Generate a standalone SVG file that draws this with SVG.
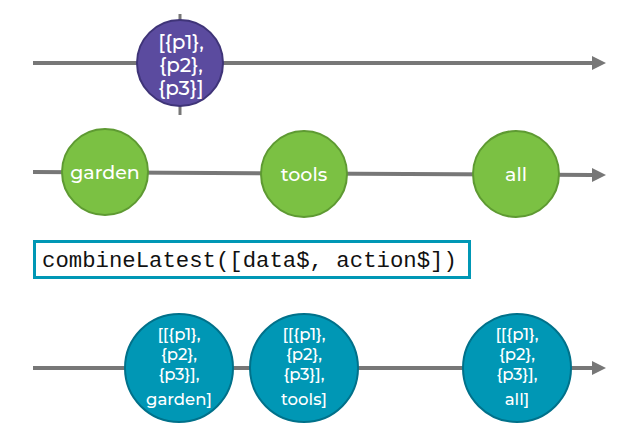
<svg xmlns="http://www.w3.org/2000/svg" width="627" height="442" viewBox="0 0 627 442">
<style>
.line{stroke:#777;stroke-width:4;fill:none}
.purple{fill:#5b4b9f;stroke:#3f3478;stroke-width:2}
.green{fill:#7bc143;stroke:#5e9a32;stroke-width:2}
.teal{fill:#0097b5;stroke:#00718a;stroke-width:2}
.lbl{fill:#fff;font-family:Montserrat,"Open Sans","Liberation Sans",sans-serif;font-weight:500;text-anchor:middle}
.code{font-family:"Liberation Mono","DejaVu Sans Mono",monospace;font-size:22.3px;fill:#111}
</style>
<defs>
<marker id="arr" markerWidth="14" markerHeight="14" refX="0" refY="7" orient="auto" markerUnits="userSpaceOnUse">
<path d="M0,0 L14,7 L0,14 Z" fill="#777"/>
</marker>
</defs>
<g id="connectors">
<line class="line" x1="33" y1="63" x2="592" y2="63" marker-end="url(#arr)"/>
<line class="line" x1="180" y1="14" x2="180" y2="115" style="stroke-width:3"/>
<line class="line" x1="33" y1="172" x2="592" y2="175" marker-end="url(#arr)"/>
<line class="line" x1="33" y1="368" x2="592" y2="368" marker-end="url(#arr)"/>
</g>
<g id="p-node">
<circle class="purple" cx="180" cy="63" r="43"/>
<text class="lbl" font-size="20" x="181" y="49">[{p1},</text>
<text class="lbl" font-size="20" x="181" y="72">{p2},</text>
<text class="lbl" font-size="20" x="181" y="95">{p3}]</text>
</g>
<g id="garden">
<circle class="green" cx="105" cy="172" r="43"/>
<text class="lbl" font-size="19" x="105" y="179">garden</text>
</g>
<g id="tools">
<circle class="green" cx="304" cy="174" r="43"/>
<text class="lbl" font-size="19" x="304" y="181">tools</text>
</g>
<g id="all">
<circle class="green" cx="516" cy="174" r="43"/>
<text class="lbl" font-size="19" x="516" y="181">all</text>
</g>
<g id="combine">
<rect x="34.5" y="241.5" width="435" height="36" fill="#fff" stroke="#0097b5" stroke-width="3"/>
<text class="code" x="42" y="267">combineLatest([data$, action$])</text>
</g>
<g id="r1">
<circle class="teal" cx="179" cy="368" r="54"/>
<text class="lbl" font-size="16.5" x="179" y="340">[[{p1},</text>
<text class="lbl" font-size="16.5" x="179" y="360">{p2},</text>
<text class="lbl" font-size="16.5" x="179" y="380">{p3}],</text>
<text class="lbl" font-size="16.5" x="179" y="405">garden]</text>
</g>
<g id="r2">
<circle class="teal" cx="304" cy="368" r="54"/>
<text class="lbl" font-size="16.5" x="304" y="340">[[{p1},</text>
<text class="lbl" font-size="16.5" x="304" y="360">{p2},</text>
<text class="lbl" font-size="16.5" x="304" y="380">{p3}],</text>
<text class="lbl" font-size="16.5" x="304" y="405">tools]</text>
</g>
<g id="r3">
<circle class="teal" cx="517" cy="368" r="54"/>
<text class="lbl" font-size="16.5" x="517" y="340">[[{p1},</text>
<text class="lbl" font-size="16.5" x="517" y="360">{p2},</text>
<text class="lbl" font-size="16.5" x="517" y="380">{p3}],</text>
<text class="lbl" font-size="16.5" x="517" y="405">all]</text>
</g>
</svg>
